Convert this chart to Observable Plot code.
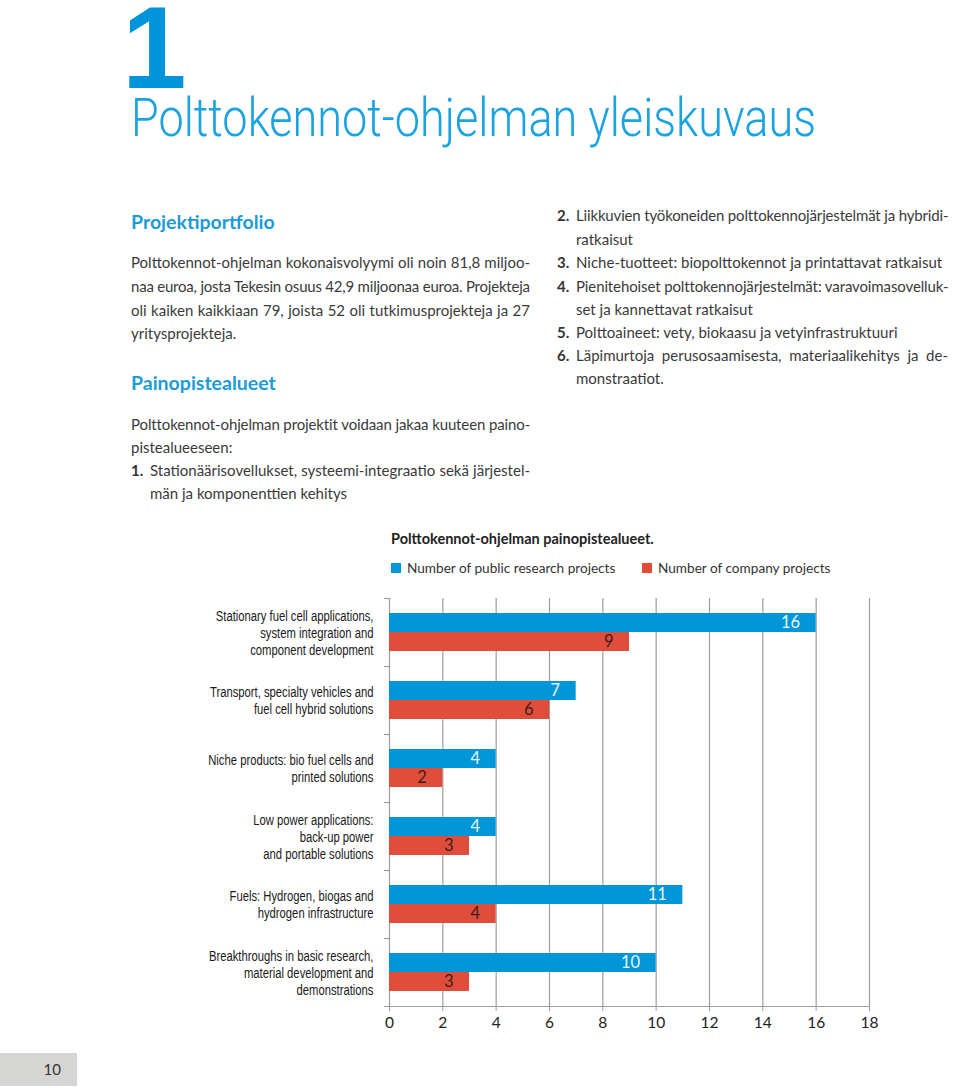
<!DOCTYPE html>
<html>
<head>
<meta charset="utf-8">
<script src="https://cdn.jsdelivr.net/npm/d3@7"></script>
<script src="https://cdn.jsdelivr.net/npm/@observablehq/plot@0.6"></script>
<style>
  html, body { margin: 0; padding: 0; background: #fff; }
  body { width: 960px; height: 1088px; position: relative; overflow: hidden;
         font-family: Lato, "Open Sans", sans-serif; color: #3a3a3a; }
  .abs { position: absolute; }
  #bignum { left: 122px; top: 5px; font: bold 116px "Liberation Sans", Arial, sans-serif;
            color: #0095da; line-height: 0.75; }
  #title { left: 131px; top: 92px; font-family: Roboto, "Open Sans", sans-serif; font-weight: 300;
           font-size: 53px; color: #1aa3e0; line-height: 1; white-space: nowrap; transform-origin: 0 0; }
  .h { font-weight: bold; font-size: 19.5px; color: #1b9bd7; white-space: nowrap; line-height: 24px; }
  .ln { position: absolute; font-size: 15px; line-height: 24px; height: 24px; white-space: nowrap; }
  .ln .n { position: absolute; left: -19px; font-weight: bold; color: #333; }
  #charttitle { left: 391px; top: 529px; font-weight: bold; font-size: 14.5px; color: #222; white-space: nowrap; line-height: 20px; }
  .lg { top: 558px; font-size: 13.6px; color: #333; white-space: nowrap; line-height: 20px; }
  .lg .sw { display: inline-block; width: 10px; height: 10px; margin-right: 6px; position: relative; top: 0px; }
  #chart { left: 200px; top: 590px; }
  #pagebox { left: 0; top: 1053px; width: 77px; height: 33px; background: #d5d6d4; }
  #pagenum { right: 16px; top: 7px; font-size: 15px; color: #333; }
</style>
</head>
<body>
<div id="bignum" class="abs">1</div>
<div id="title" class="abs">Polttokennot-ohjelman yleiskuvaus</div>

<div class="abs h" style="left:131px; top:210px;">Projektiportfolio</div>
<div class="abs h" style="left:131px; top:371px;">Painopistealueet</div>

<div id="text"></div>

<div id="charttitle" class="abs">Polttokennot-ohjelman painopistealueet.</div>
<div id="legend"></div>
<div id="chart" class="abs"></div>

<div id="pagebox" class="abs"><div id="pagenum" class="abs">10</div></div>

<script>
// ---- chart data ----
const categories = [
  "Stationary fuel cell applications,\nsystem integration and\ncomponent development",
  "Transport, specialty vehicles and\nfuel cell hybrid solutions",
  "Niche products: bio fuel cells and\nprinted solutions",
  "Low power applications:\nback-up power\nand portable solutions",
  "Fuels: Hydrogen, biogas and\nhydrogen infrastructure",
  "Breakthroughs in basic research,\nmaterial development and\ndemonstrations"
];
const seriesNames = ["Number of public research projects", "Number of company projects"];
const publicProjects = [16, 7, 4, 4, 11, 10];
const companyProjects = [9, 6, 2, 3, 4, 3];
const xTicks = [0, 2, 4, 6, 8, 10, 12, 14, 16, 18];
const seriesColors = ["#0096d7", "#e04e3b"];
const labelColors = ["#e9f6fc", "#3b1d19"];

// ---- body text (lines as set in the page) ----
const textLines = [
  // [x, centerY, width, text, justify, number]
  [131, 263, 399, "Polttokennot-ohjelman kokonaisvolyymi oli noin 81,8 miljoo-", true],
  [131, 287, 399, "naa euroa, josta Tekesin osuus 42,9 miljoonaa euroa. Projekteja", true],
  [131, 311, 399, "oli kaiken kaikkiaan 79, joista 52 oli tutkimusprojekteja ja 27", true],
  [131, 334, 399, "yritysprojekteja.", false],
  [131, 425, 399, "Polttokennot-ohjelman projektit voidaan jakaa kuuteen paino-", true],
  [131, 448, 399, "pistealueeseen:", false],
  [150, 471, 380, "Stationäärisovellukset, systeemi-integraatio sekä järjestel-", true, "1."],
  [150, 494, 380, "män ja komponenttien kehitys", false],
  [576, 216, 372, "Liikkuvien työkoneiden polttokennojärjestelmät ja hybridi-", true, "2."],
  [576, 240, 372, "ratkaisut", false],
  [576, 263, 372, "Niche-tuotteet: biopolttokennot ja printattavat ratkaisut", false, "3."],
  [576, 287, 372, "Pienitehoiset polttokennojärjestelmät: varavoimasovelluk-", true, "4."],
  [576, 310, 372, "set ja kannettavat ratkaisut", false],
  [576, 333, 372, "Polttoaineet: vety, biokaasu ja vetyinfrastruktuuri", false, "5."],
  [576, 356, 372, "Läpimurtoja perusosaamisesta, materiaalikehitys ja de-", true, "6."],
  [576, 379, 372, "monstraatiot.", false]
];

const textHost = document.getElementById("text");
for (const [x, cy, w, t, just, num] of textLines) {
  const d = document.createElement("div");
  d.className = "ln";
  d.style.left = x + "px";
  d.style.top = (cy - 13) + "px";
  d.style.width = w + "px";
  if (num) {
    const n = document.createElement("span");
    n.className = "n";
    n.textContent = num;
    d.appendChild(n);
  }
  const s = document.createElement("span");
  s.className = "t";
  s.textContent = t;
  d.appendChild(s);
  textHost.appendChild(d);
  const natural = s.getBoundingClientRect().width;
  if (natural > w) {
    s.style.letterSpacing = ((w - natural) / (t.length - 1)) + "px";
  } else if (just) {
    const spaces = (t.match(/ /g) || []).length;
    if (spaces) s.style.wordSpacing = ((w - natural) / spaces) + "px";
  }
}

// fit title width to the page setting
const title = document.getElementById("title");
const tw = title.getBoundingClientRect().width;
title.style.transform = `scaleX(${685 / tw})`;

// legend
const legendHost = document.getElementById("legend");
const legendLeft = [391, 642];
seriesNames.forEach((name, i) => {
  const it = document.createElement("div");
  it.className = "abs lg";
  it.style.left = legendLeft[i] + "px";
  const sw = document.createElement("span");
  sw.className = "sw";
  sw.style.background = seriesColors[i];
  const tx = document.createElement("span");
  tx.textContent = name;
  it.appendChild(sw);
  it.appendChild(tx);
  legendHost.appendChild(it);
});

// chart
const data = categories.flatMap((c, i) => [
  {category: c, series: seriesNames[0], value: publicProjects[i]},
  {category: c, series: seriesNames[1], value: companyProjects[i]}
]);

const chart = Plot.plot({
  width: 700,
  height: 450,
  marginLeft: 189,
  marginRight: 31,
  marginTop: 8,
  marginBottom: 34,
  style: {fontFamily: "Lato, 'Open Sans', sans-serif", fontSize: "15px", color: "#222", background: "transparent"},
  x: {domain: [0, 18], ticks: xTicks},
  y: {domain: seriesNames, paddingInner: 0, paddingOuter: 0.744, axis: null},
  fy: {domain: categories, padding: 0, axis: null},
  color: {domain: seriesNames, range: seriesColors},
  marks: [
    Plot.gridX({ticks: xTicks, stroke: "#9d9d9d", strokeOpacity: 1, strokeWidth: 1.2}),
    Plot.frame({anchor: "top", stroke: "#9d9d9d", strokeWidth: 1.2, insetLeft: -5, insetRight: 480}),
    Plot.barX(data, {x: "value", y: "series", fy: "category", fill: "series"}),
    Plot.text(data.filter(d => d.series === seriesNames[0]), {
      x: "value", y: "series", fy: "category", text: d => String(d.value),
      textAnchor: "end", dx: -16, fill: labelColors[0], fontSize: 16.5
    }),
    Plot.text(data.filter(d => d.series === seriesNames[1]), {
      x: "value", y: "series", fy: "category", text: d => String(d.value),
      textAnchor: "end", dx: -16, fill: labelColors[1], fontSize: 16.5
    }),
    Plot.frame({anchor: "bottom", facet: "super", stroke: "#9d9d9d", strokeWidth: 1.2, insetLeft: -5}),
    Plot.axisFy({anchor: "left", tickSize: 0, tickPadding: 16, label: null, lineHeight: 1.16,
                 fontFamily: "'Liberation Sans', Arial, sans-serif", fontSize: 14.5, fill: "#1a1a1a"}),
    Plot.axisX({ticks: xTicks, tickSize: 5, tickPadding: 5, label: null, stroke: "#9d9d9d", fill: "#222", fontSize: 15.5})
  ]
});
document.getElementById("chart").appendChild(chart);

// condense the category labels (the original uses a condensed face)
const fyLabels = chart.querySelectorAll('[aria-label="fy-axis tick label"] text');
if (fyLabels.length) {
  const k = 158 / fyLabels[0].getBBox().width;
  fyLabels.forEach(t => {
    const tr = t.getAttribute("transform") || "";
    t.setAttribute("transform", `${tr} scale(${k},1)`);
  });
}
</script>
</body>
</html>
